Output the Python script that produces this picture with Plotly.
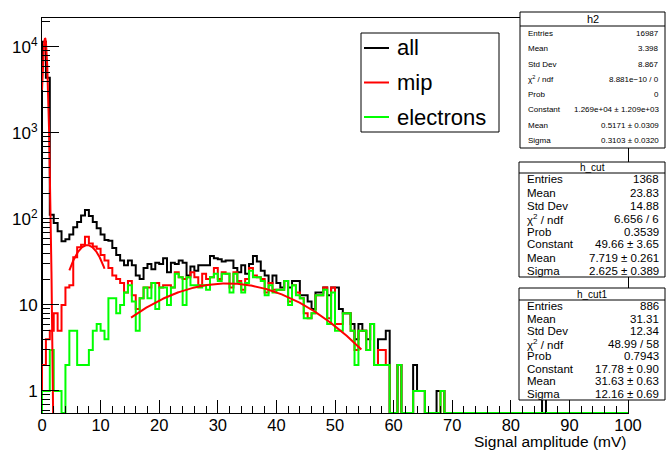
import numpy as np
import plotly.graph_objects as go

# ---------------- data (150 bins of 2/3 mV from 0 to 100 mV) ----------------
n_bins = 150
x_min, x_max = 0.0, 100.0

all_counts = [11500, 4400, 112, 90, 72, 55, 58, 66, 80, 92,
              110, 127, 108, 92, 78, 66, 57, 56, 46, 38,
              33, 29, 33, 29, 22, 20, 27, 30, 26, 31,
              30, 35, 24, 31, 30, 33, 31, 22, 28, 25,
              29, 29, 29, 37, 35, 34, 32, 33, 33, 27,
              24, 29, 23, 30, 37, 32, 25, 22, 18, 22,
              18, 16, 19, 16, 19, 19, 13, 13, 11, 9,
              14, 14, 16, 13, 16, 16, 9, 8, 8, 6,
              4, 6, 5, 4, 6, 2, 4, 4, 5, 0,
              0, 2, 0, 0, 0, 2, 1, 1, 0, 0,
              0, 1, 1, 0, 0, 0, 0, 0, 0, 0,
              0, 0, 0, 0, 0, 0, 0, 0, 0, 0,
              0, 0, 0, 0, 0, 0, 0, 0, 1, 0,
              0, 0, 0, 0, 0, 0, 0, 0, 0, 0,
              0, 0, 0, 0, 0, 0, 0, 0, 0, 0]

mip_counts = [2, 4, 5, 8, 5, 10, 16, 17, 36, 47,
              50, 62, 52, 48, 45, 38, 33, 27, 22, 20,
              18, 14, 19, 13, 9, 12, 16, 16, 18, 18,
              16, 17, 17, 16, 24, 21, 20, 21, 24, 21,
              17, 23, 20, 21, 27, 20, 24, 23, 16, 24,
              19, 15, 20, 27, 22, 21, 20, 14, 18, 15,
              15, 15, 19, 11, 17, 14, 12, 8, 7, 8,
              13, 13, 16, 7, 16, 6, 6, 8, 8, 5,
              3, 5, 5, 3, 6, 2, 3, 3, 2, 0,
              0, 2, 0, 0, 0, 1, 1, 1, 0, 0,
              0, 0, 1, 0, 0, 0, 0, 0, 0, 0,
              0, 0, 0, 0, 0, 0, 0, 0, 0, 0,
              0, 0, 0, 0, 0, 0, 0, 0, 0, 0,
              0, 0, 0, 0, 0, 0, 0, 0, 0, 0,
              0, 0, 0, 0, 0, 0, 0, 0, 0, 0]

electron_counts = [1, 1, 3, 1, 1, 0, 2, 5, 5, 2,
                   2, 2, 3, 5, 6, 5, 4, 12, 12, 8,
                   10, 14, 17, 11, 5, 12, 16, 12, 18, 9,
                   16, 16, 10, 16, 23, 21, 10, 21, 17, 17,
                   16, 17, 15, 21, 23, 19, 23, 23, 14, 23,
                   18, 14, 18, 25, 21, 21, 19, 13, 17, 14,
                   15, 15, 19, 10, 17, 13, 12, 7, 7, 8,
                   13, 13, 15, 6, 14, 5, 5, 8, 8, 5,
                   2, 5, 5, 3, 6, 2, 2, 2, 2, 0,
                   0, 2, 0, 0, 0, 1, 1, 1, 0, 0,
                   0, 0, 1, 0, 0, 0, 0, 0, 0, 0,
                   0, 0, 0, 0, 0, 0, 0, 0, 0, 0,
                   0, 0, 0, 0, 0, 0, 0, 0, 0, 0,
                   0, 0, 0, 0, 0, 0, 0, 0, 0, 0,
                   0, 0, 0, 0, 0, 0, 0, 0, 0, 0]

# Gaussian fit results shown in the stat boxes: (constant, mean, sigma, range lo, range hi)
fit_h2 = [1.269e4, 0.5171, 0.3103, 0.0, 2.0]
fit_h_cut = [49.66, 7.719, 2.625, 4.67, 10.67]
fit_h_cut1 = [17.78, 31.63, 12.16, 15.2, 54.5]

legend_names = ["all", "mip", "electrons"]
series_colors = ["#000000", "#ff0000", "#00ff00"]
x_ticks = [0, 10, 20, 30, 40, 50, 60, 70, 80, 90, 100]
y_tick_vals = [1, 10, 100, 1000, 10000]
y_tick_text = ["1", "10", "10<sup>2</sup>", "10<sup>3</sup>", "10<sup>4</sup>"]
x_title = "Signal amplitude (mV)"

stat_labels = ["Entries", "Mean", "Std Dev", "\u03c7<sup>2</sup> / ndf", "Prob", "Constant", "Mean", "Sigma"]
h2_values = ["16987", "3.398", "8.867", "8.881e\u221210 / 0", "0",
             "1.269e+04 \u00b1 1.209e+03", "0.5171 \u00b1 0.0309", "0.3103 \u00b1 0.0320"]
h_cut_values = ["1368", "23.83", "14.88", "6.656 / 6", "0.3539",
                "49.66 \u00b1 3.65", "7.719 \u00b1 0.261", "2.625 \u00b1 0.389"]
h_cut1_values = ["886", "31.31", "12.34", "48.99 / 58", "0.7943",
                 "17.78 \u00b1 0.90", "31.63 \u00b1 0.63", "12.16 \u00b1 0.69"]

# ---------------- figure ----------------
FONT = "Liberation Sans, Arial, Helvetica, sans-serif"
W, H = 669, 451
ML, MR, MT, MB = 42, 41, 18, 38
PW, PH = W - ML - MR, H - MT - MB

y_lo, y_hi = -0.256, 4.337
y_floor = 10 ** y_lo

edges = np.linspace(x_min, x_max, n_bins + 1)


def step_xy(counts):
    c = [v if v > 0 else y_floor for v in counts]
    xs = [edges[0]] + list(edges)
    ys = [y_floor] + c + [c[-1]]
    return xs, ys


def gauss(p):
    const, mu, sig, lo, hi = p
    xx = np.linspace(lo, hi, 400)
    return xx, const * np.exp(-0.5 * ((xx - mu) / sig) ** 2)


def px_x(px):
    return (px - ML) / PW


def px_y(py):
    return (MT + PH - py) / PH


fig = go.Figure()
for name, counts, col in zip(legend_names, [all_counts, mip_counts, electron_counts], series_colors):
    xs, ys = step_xy(counts)
    fig.add_trace(go.Scatter(x=xs, y=ys, mode="lines", line=dict(shape="hv", color=col, width=2),
                             name=name, showlegend=False))

for p in [fit_h2, fit_h_cut, fit_h_cut1]:
    fx, fy = gauss(p)
    fig.add_trace(go.Scatter(x=fx, y=fy, mode="lines", line=dict(color="#ff0000", width=2),
                             showlegend=False, hoverinfo="skip"))

minor_y = [m * 10 ** d for d in range(-1, 5) for m in range(2, 10) if 10 ** y_lo < m * 10 ** d < 10 ** y_hi]

fig.update_layout(
    width=W, height=H, autosize=False,
    margin=dict(l=ML, r=MR, t=MT, b=MB, pad=0),
    paper_bgcolor="white", plot_bgcolor="white",
    font=dict(family=FONT, color="black"),
    showlegend=False,
    xaxis=dict(range=[x_min, x_max], showgrid=False, zeroline=False,
               showline=True, mirror=True, linecolor="black", linewidth=1,
               ticks="inside", ticklen=13, tickcolor="black", tickwidth=1,
               tickvals=x_ticks, ticktext=[str(v) for v in x_ticks],
               tickfont=dict(size=16.5, family=FONT), ticklabelstandoff=-3,
               minor=dict(ticks="inside", ticklen=7, dtick=2, tick0=0, tickcolor="black", showgrid=False)),
    yaxis=dict(type="log", range=[y_lo, y_hi], showgrid=False, zeroline=False,
               showline=True, mirror=True, linecolor="black", linewidth=1,
               ticks="inside", ticklen=17, tickcolor="black", tickwidth=1,
               tickmode="array", tickvals=y_tick_vals, ticktext=y_tick_text,
               tickfont=dict(size=17, family=FONT),
               minor=dict(ticks="inside", ticklen=8, tickmode="array", tickvals=minor_y,
                          tickcolor="black", showgrid=False)),
)

# x-axis title, right aligned at the axis end (ROOT style)
fig.add_annotation(text=x_title, xref="paper", yref="paper", x=1.0, y=px_y(441),
                   xanchor="right", yanchor="middle", showarrow=False,
                   font=dict(size=15.5, family=FONT))

# legend box (ROOT TLegend style)
leg_x0, leg_x1, leg_y0, leg_y1 = 361, 499, 33, 132
fig.add_shape(type="rect", xref="paper", yref="paper", x0=px_x(leg_x0), x1=px_x(leg_x1),
              y0=px_y(leg_y0), y1=px_y(leg_y1), line=dict(color="black", width=1),
              fillcolor="white", layer="above")
for k, (name, col) in enumerate(zip(legend_names, series_colors)):
    yc = 48 + 34.5 * k
    fig.add_shape(type="line", xref="paper", yref="paper", x0=px_x(364), x1=px_x(389),
                  y0=px_y(yc), y1=px_y(yc), line=dict(color=col, width=2), layer="above")
    fig.add_annotation(text=name, xref="paper", yref="paper", x=px_x(395), y=px_y(yc),
                       xanchor="left", yanchor="middle", showarrow=False,
                       font=dict(size=22, family=FONT))


def stat_box(title, values, x0, x1, y0, ytitle_sep, y1, title_size, row_size):
    fig.add_shape(type="rect", xref="paper", yref="paper", x0=px_x(x0), x1=px_x(x1),
                  y0=px_y(y0), y1=px_y(y1), line=dict(color="black", width=1),
                  fillcolor="white", layer="above")
    fig.add_shape(type="line", xref="paper", yref="paper", x0=px_x(x0), x1=px_x(x1),
                  y0=px_y(ytitle_sep), y1=px_y(ytitle_sep), line=dict(color="black", width=1),
                  layer="above")
    fig.add_annotation(text=title, xref="paper", yref="paper", x=px_x((x0 + x1) / 2),
                       y=px_y((y0 + ytitle_sep) / 2), xanchor="center", yanchor="middle",
                       showarrow=False, font=dict(size=title_size, family=FONT))
    step = (y1 - ytitle_sep) / len(values)
    for k, (lab, val) in enumerate(zip(stat_labels, values)):
        yc = ytitle_sep + step * (k + 0.5)
        fig.add_annotation(text=lab, xref="paper", yref="paper", x=px_x(x0 + 6), y=px_y(yc),
                           xanchor="left", yanchor="middle", showarrow=False,
                           font=dict(size=row_size, family=FONT))
        fig.add_annotation(text=val, xref="paper", yref="paper", x=px_x(x1 - 4), y=px_y(yc),
                           xanchor="right", yanchor="middle", showarrow=False,
                           font=dict(size=row_size, family=FONT))


stat_box("h2", h2_values, 520, 665, 12, 26, 148, 11, 8)
stat_box("h_cut", h_cut_values, 519, 665, 162, 173, 277, 10, 11.5)
stat_box("h_cut1", h_cut1_values, 519, 665, 288, 300, 400, 10, 11.5)

fig.write_html("out.html", config={"displayModeBar": False})
